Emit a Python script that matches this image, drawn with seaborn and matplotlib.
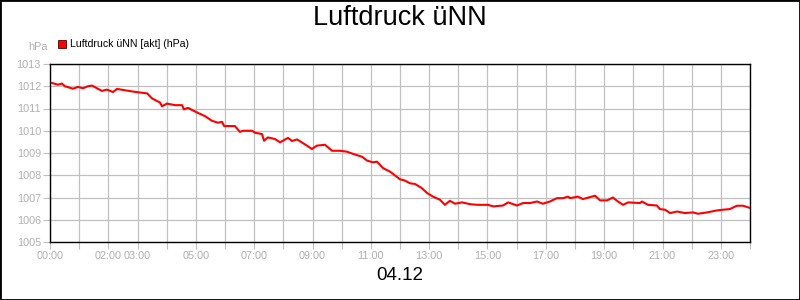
import matplotlib
matplotlib.use("Agg")
import matplotlib.pyplot as plt
import seaborn as sns
import pandas as pd
from matplotlib.patches import Rectangle
from matplotlib.ticker import FixedLocator, FixedFormatter

# ---- data (hours since 00:00, hPa) ----
hours = [0.06, 0.27, 0.41, 0.51, 0.79, 0.96, 1.13, 1.30, 1.44, 1.78, 1.95, 2.16, 2.30, 2.57,
         2.85, 3.02, 3.33, 3.50, 3.77, 3.84, 4.01, 4.29, 4.53, 4.59, 4.73, 5.04, 5.31, 5.55,
         5.76, 5.90, 5.97, 6.07, 6.34, 6.51, 6.62, 6.93, 7.03, 7.27, 7.34, 7.47, 7.71, 7.89,
         8.16, 8.30, 8.47, 8.74, 8.98, 9.15, 9.43, 9.67, 9.94, 10.18, 10.39, 10.70, 10.87,
         11.07, 11.21, 11.42, 11.66, 12.00, 12.17, 12.34, 12.51, 12.75, 12.93, 13.13, 13.37,
         13.54, 13.71, 13.89, 14.13, 14.40, 14.67, 15.02, 15.19, 15.53, 15.71, 16.01, 16.22,
         16.46, 16.70, 16.90, 17.14, 17.38, 17.59, 17.76, 17.83, 18.10, 18.27, 18.69, 18.86,
         19.10, 19.30, 19.47, 19.65, 19.82, 20.23, 20.30, 20.50, 20.81, 20.91, 21.09, 21.26,
         21.50, 21.77, 22.05, 22.22, 22.53, 22.87, 23.07, 23.31, 23.55, 23.76, 24.00]
pressure = [1012.15, 1012.07, 1012.12, 1012.00, 1011.89, 1011.97, 1011.91, 1012.00, 1012.03,
            1011.79, 1011.85, 1011.74, 1011.88, 1011.82, 1011.76, 1011.73, 1011.68, 1011.45,
            1011.27, 1011.10, 1011.22, 1011.15, 1011.15, 1010.96, 1011.03, 1010.82, 1010.66,
            1010.45, 1010.36, 1010.40, 1010.21, 1010.21, 1010.21, 1009.95, 1010.00, 1010.00,
            1009.91, 1009.85, 1009.55, 1009.70, 1009.63, 1009.48, 1009.68, 1009.54, 1009.61,
            1009.39, 1009.18, 1009.33, 1009.37, 1009.10, 1009.10, 1009.06, 1008.96, 1008.83,
            1008.66, 1008.58, 1008.61, 1008.32, 1008.16, 1007.82, 1007.76, 1007.64, 1007.61,
            1007.42, 1007.20, 1007.04, 1006.90, 1006.67, 1006.85, 1006.72, 1006.78, 1006.70,
            1006.67, 1006.67, 1006.60, 1006.64, 1006.78, 1006.64, 1006.75, 1006.75, 1006.82,
            1006.72, 1006.82, 1006.97, 1006.97, 1007.04, 1006.97, 1007.04, 1006.93, 1007.08,
            1006.87, 1006.87, 1007.00, 1006.82, 1006.67, 1006.78, 1006.75, 1006.82, 1006.67,
            1006.64, 1006.48, 1006.45, 1006.30, 1006.37, 1006.30, 1006.33, 1006.27, 1006.33,
            1006.42, 1006.45, 1006.48, 1006.63, 1006.63, 1006.53]

x_tick_hours = list(range(0, 25))
x_label_hours = [0, 2, 3, 5, 7, 9, 11, 13, 15, 17, 19, 21, 23]
y_ticks = [1005, 1006, 1007, 1008, 1009, 1010, 1011, 1012, 1013]

title = "Luftdruck üNN"
series_name = "Luftdruck üNN [akt] (hPa)"
unit = "hPa"
date_label = "04.12"

df = pd.DataFrame({"hour": hours, "value": pressure})

sns.set_style("white")
plt.rcParams["font.family"] = ["Liberation Sans", "DejaVu Sans"]

fig = plt.figure(figsize=(8, 3), dpi=100)
ax = fig.add_axes([50 / 800, 1 - 242 / 300, 700 / 800, 178 / 300])

grid_c = "#c0c0c0"
label_c = "#b0b0b0"

sns.lineplot(data=df, x="hour", y="value", ax=ax, color="#ff0000", linewidth=1.5,
             legend=False, zorder=3)

ax.set_xlim(0, 24)
ax.set_ylim(1005, 1013)
ax.xaxis.set_major_locator(FixedLocator(x_tick_hours))
ax.xaxis.set_major_formatter(FixedFormatter(
    [f"{h:02d}:00" if h in x_label_hours else "" for h in x_tick_hours]))
ax.yaxis.set_major_locator(FixedLocator(y_ticks))
ax.yaxis.set_major_formatter(FixedFormatter([str(v) for v in y_ticks]))

ax.grid(True, color=grid_c, linewidth=0.9)
ax.set_axisbelow(True)
ax.tick_params(axis="both", which="major", direction="out", length=5, width=0.8,
               color=grid_c, labelcolor=label_c, labelsize=7.8, pad=1.5,
               left=True, bottom=True)
for s in ax.spines.values():
    s.set_visible(True)
    s.set_color("black")
    s.set_linewidth(1.0)
ax.set_xlabel("")
ax.set_ylabel("")

fig.text(0.5, 1 - 18 / 300, title, ha="center", va="center", fontsize=19.5, color="black")
fig.text(0.5, 1 - 275 / 300, date_label, ha="center", va="center", fontsize=13.5, color="black")
fig.text(48 / 800, 1 - 47 / 300, unit, ha="right", va="center", fontsize=7.8, color=label_c)

fig.patches.append(Rectangle((58 / 800, 1 - 48 / 300), 8 / 800, 8 / 300,
                             transform=fig.transFigure, facecolor="#ff0000",
                             edgecolor="#550000", linewidth=0.6))
fig.text(70 / 800, 1 - 44 / 300, series_name, ha="left", va="center", fontsize=7.6, color="black")

fig.patches.append(Rectangle((0, 0), 1, 1, transform=fig.transFigure, fill=False,
                             edgecolor="black", linewidth=2.0))

fig.savefig("out.png", dpi=100)
